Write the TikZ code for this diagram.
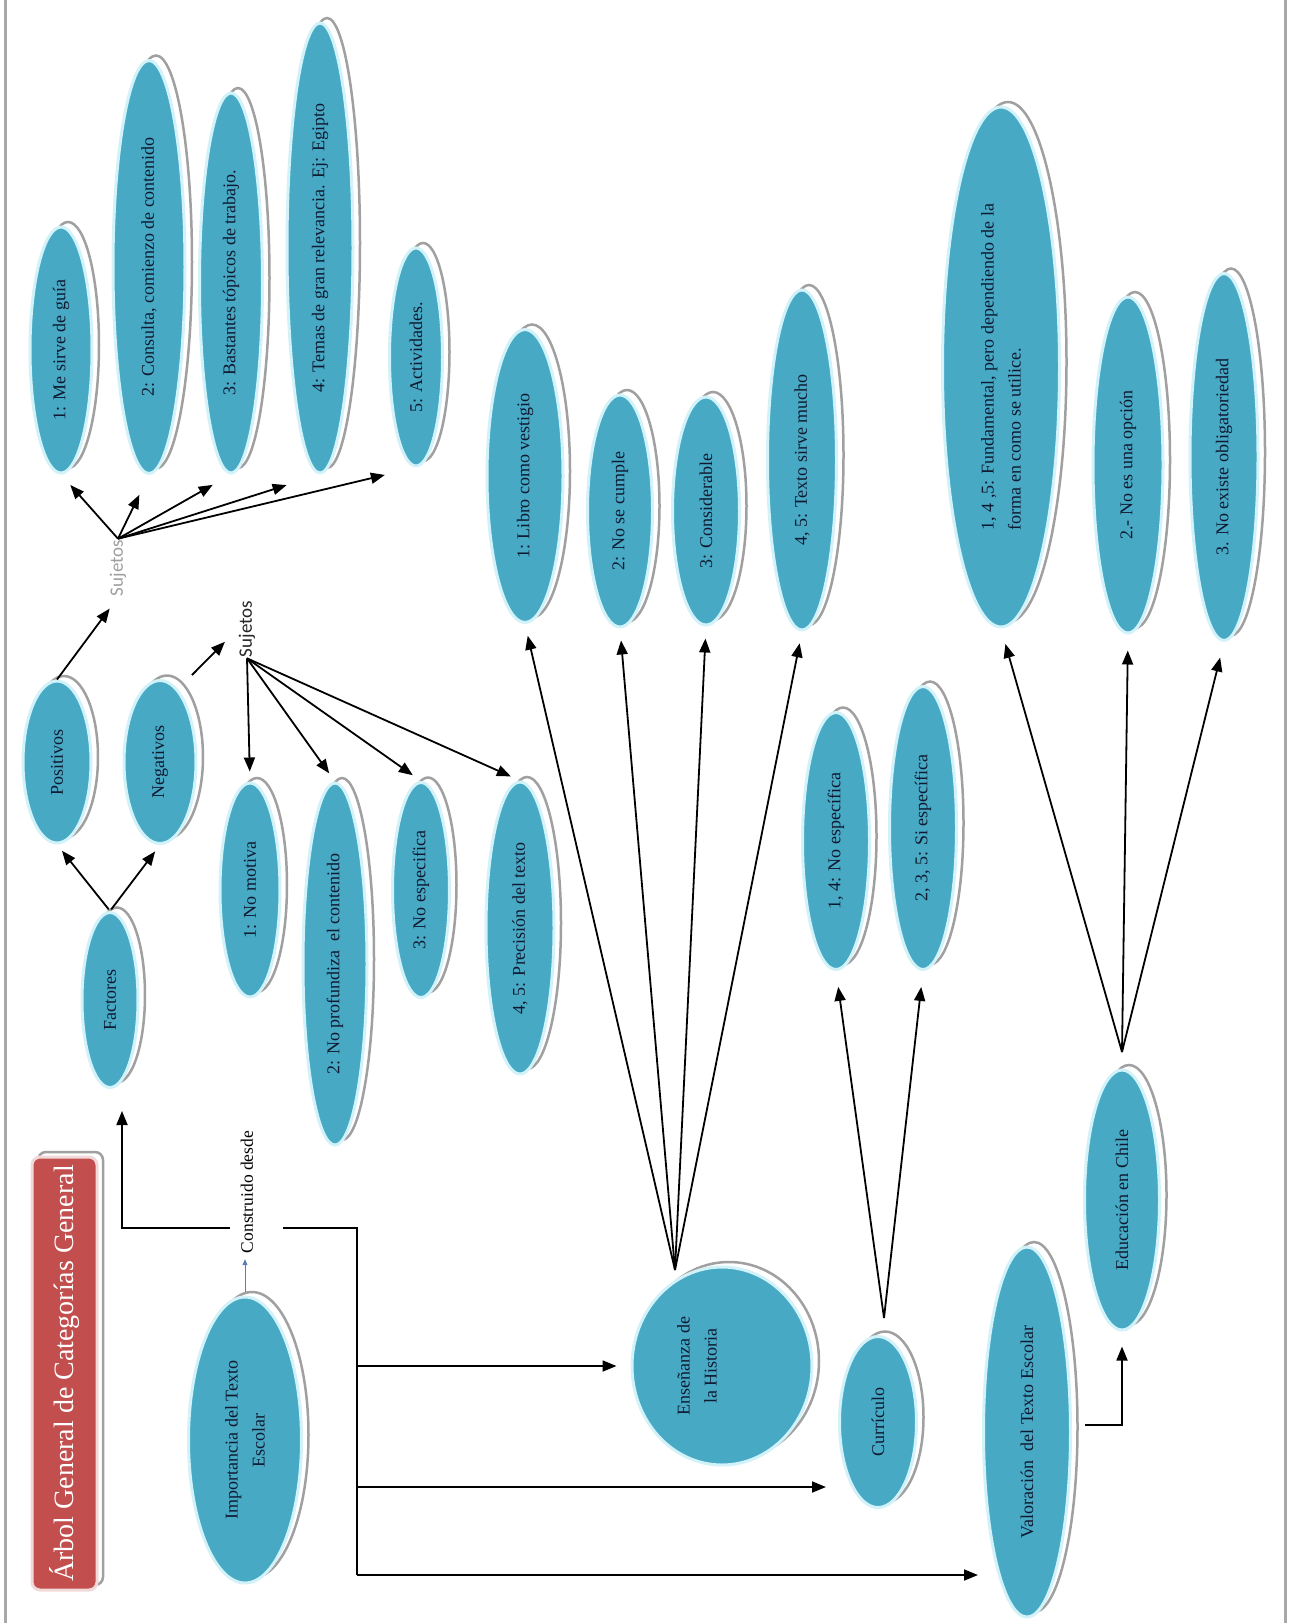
\documentclass[tikz,border=0pt]{standalone}
\usepackage{fontspec}
\setmainfont{Liberation Serif}
\newfontfamily\sujfont{Carlito}
\usetikzlibrary{shapes.geometric,arrows.meta}
\definecolor{bfill}{HTML}{48A9C5}
\definecolor{bring}{HTML}{D2F2F9}
\definecolor{shgray}{HTML}{A0A0A0}
\definecolor{btext}{HTML}{0F1A30}
\definecolor{tred}{HTML}{C24E4E}
\definecolor{tring}{HTML}{F2D9D9}
\definecolor{bline}{HTML}{5A7DB5}
\definecolor{framec}{HTML}{A8A8A8}
\newcommand\bub[7][]{%
  \node[shad,minimum width=#6pt,minimum height=#5pt,rotate=90] (#2-s) at (#3+7,#4-5) {};
  \node[bub,minimum width=#6pt,minimum height=#5pt,rotate=90,#1] (#2) at (#3,#4) {#7};}
\begin{document}
\begin{tikzpicture}[x=1pt,y=-1pt,
  bub/.style={ellipse,fill=bfill,draw=bring,line width=3pt,inner sep=0pt,text=btext,align=center,font=\fontsize{18}{27}\selectfont},
  shad/.style={ellipse,fill=white,draw=shgray,line width=2.5pt,inner sep=0pt},
  arr/.style={-{Triangle[length=14pt,width=11pt]},line width=1.8pt},
  link/.style={line width=1.8pt},
  suj/.style={font=\sujfont\fontsize{19}{22}\selectfont,inner sep=1pt}]
\path[fill=white,use as bounding box] (0,0) rectangle (1290,1623);
\draw[framec,line width=3pt] (5,0) -- (5,1623);
\draw[framec,line width=3pt] (1285,0) -- (1285,1623);

% title
\node[rectangle,rounded corners=8pt,fill=white,draw=shgray,line width=2.5pt,minimum width=433pt,minimum height=65pt,rotate=90] (title-s) at (70.5,1368.5) {};
\node[rectangle,rounded corners=8pt,fill=tred,draw=tring,line width=3pt,minimum width=433pt,minimum height=65pt,rotate=90,text=white,font=\fontsize{28}{30}\selectfont] (title) at (64.5,1373.5) {Árbol General de Categorías General};

% bubbles
\bub{p1}{61}{350}{62}{246}{1: Me sirve de guía}
\bub{p2}{149}{267}{72}{413}{2: Consulta, comienzo de contenido}
\bub{p3}{231}{283}{63}{380}{3: Bastantes tópicos de trabajo.}
\bub{p4}{320}{248}{66}{450}{4: Temas de gran relevancia. Ej: Egipto}
\bub{p5}{416}{357}{53}{218}{5: Actividades.}
\bub{pos}{57}{762}{68}{162}{Positivos}
\bub{neg}{160}{762}{72}{163}{Negativos}
\bub{fac}{110}{1000}{56}{175}{Factores}
\bub{n1}{250}{890}{60}{214}{1: No motiva}
\bub{n2}{335}{964}{64}{362}{2: No profundiza\ \ el contenido}
\bub{n3}{421}{890}{57}{215}{3: No especifica}
\bub{n4}{520}{928}{68}{292}{4, 5: Precisión del texto}
\bub{imp}{245}{1440}{113}{286}{Importancia del Texto\\Escolar}
\bub{ens}{722}{1366}{180}{198}{\raisebox{20pt}[0pt][0pt]{\begin{tabular}{@{}c@{}}Enseñanza de\\la Historia\end{tabular}}}
\bub{e1}{525}{476}{76}{293}{1: Libro como vestigio}
\bub{e2}{620}{511}{65}{232}{2: No se cumple}
\bub{e3}{706}{511}{67}{228}{3: Considerable}
\bub{e4}{802}{460}{69}{340}{4, 5: Texto sirve mucho}
\bub{cur}{878}{1422}{77}{171}{Currículo}
\bub{c1}{836}{841}{67}{257}{1, 4: No específica}
\bub{c2}{923}{828}{67}{283}{2, 3, 5: Si específica}
\bub{val}{1027}{1432}{87}{370}{Valoración\ \ del Texto Escolar}
\bub{edu}{1122}{1200}{75}{260}{Educación en Chile}
\bub[align=left]{v1}{1001}{367}{117}{520}{1, 4 ,5: Fundamental, pero dependiendo de la\\forma en como se utilice.}
\bub{v2}{1128}{465}{70}{336}{2.- No es una opción}
\bub{v3}{1224}{457}{68}{367}{3. No existe obligatoriedad}

% text labels
\node[suj,text=gray!75,rotate=90] (suj1) at (118,568) {Sujetos};
\node[suj,text=black!85,rotate=90] (suj2) at (247,629) {Sujetos};
\node[font=\fontsize{17.5}{20}\selectfont,inner sep=1pt,rotate=90] (cons) at (247,1192) {Construido desde};

% coordinates
\coordinate (negc) at (192,675);
\coordinate (ensc) at (675,1270);
\coordinate (curc) at (884,1318);
\coordinate (educ) at (1122,1052);
\coordinate (jl) at (230,1228);
\coordinate (jr) at (283,1228);
\coordinate (t0) at (357,1228);
\coordinate (t1) at (357,1366);
\coordinate (t2) at (357,1487);
\coordinate (t3) at (357,1575);
\coordinate (vo) at (1085,1425);

% connectors
\foreach \t/\s in {p1/14,p2/22,p3/21,p4/35,p5/32}
  \draw[arr,shorten >=\s pt] (suj1.east) -- (\t.west);
\draw[arr,shorten >=14pt] (pos.east) -- (suj1.west);
\draw[arr,shorten >=18pt] (negc) -- (suj2.north);
\foreach \t in {n1,n2,n3,n4}
  \draw[arr,shorten >=10pt] (suj2.west) -- (\t.east);
\draw[arr,shorten <=2pt,shorten >=8pt] (fac.east) -- (pos.west);
\draw[arr,shorten <=2pt,shorten >=8pt] (fac.east) -- (neg.west);
\draw[-{Triangle[length=6pt,width=5pt]},line width=1pt,bline,shorten <=4pt,shorten >=5pt] (imp.east) -- (imp.east |- cons.west);
\draw[arr,shorten >=22pt] (jl) -| ([xshift=12pt]fac.west);
\draw[link] (jr) -- (t0) -- (t3);
\draw[arr,shorten >=14pt] (t1) -- (t1 -| ens.north);
\draw[arr,shorten >=12pt] (t2) -- (t2 -| cur.north);
\draw[arr,shorten >=4pt] (t3) -- (t3 -| val.north);
\draw[arr,shorten >=15pt] (vo) -| (edu.west);
\foreach \t in {e1,e2,e3,e4}
  \draw[arr,shorten >=12pt] (ensc) -- (\t.west);
\foreach \t in {c1,c2}
  \draw[arr,shorten >=16pt] (curc) -- (\t.west);
\foreach \t in {v1,v2,v3}
  \draw[arr,shorten >=16pt] (educ) -- (\t.west);
\end{tikzpicture}
\end{document}
